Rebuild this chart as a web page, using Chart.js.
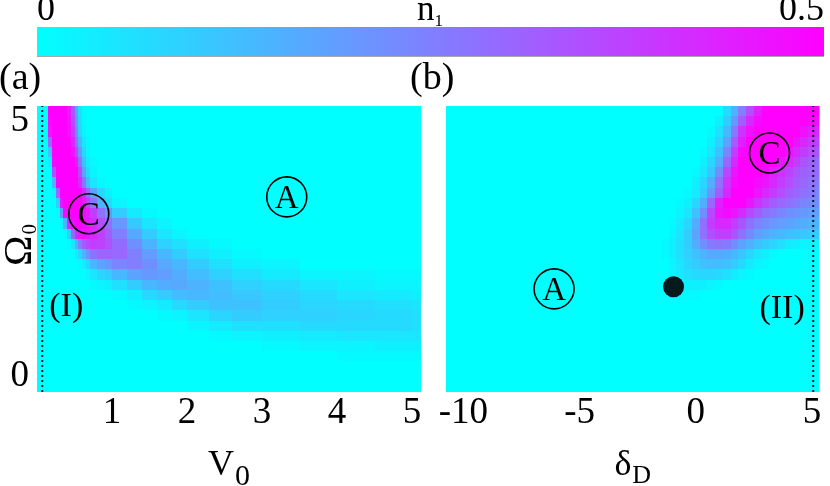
<!DOCTYPE html>
<html>
<head>
<meta charset="utf-8">
<title>n1 phase diagram</title>
<script src="https://cdn.jsdelivr.net/npm/chart.js@4.4.1/dist/chart.umd.min.js"></script>
<style>
  html, body { margin:0; padding:0; background:#ffffff; }
  #wrap { position:relative; width:830px; height:486px; overflow:hidden; background:#fff; }
  #wrap canvas { position:absolute; }
</style>
</head>
<body>
<div id="wrap">
  <canvas id="cbar" width="830" height="62" style="left:0;top:0;"></canvas>
  <canvas id="panelA" width="432" height="426" style="left:0;top:60px;"></canvas>
  <canvas id="panelB" width="430" height="426" style="left:400px;top:60px;"></canvas>
</div>
<script>
// ================= DATA =================
const N1_TICKS = [0, 0.5];
const V0_TICKS = [1, 2, 3, 4, 5];
const DELTA_TICKS = [-10, -5, 0, 5];
const OMEGA_TICKS = [0, 5];

// Omega_0 row centres (row height 0.2)
const OMEGA_ROWS = [5.2, 5.0, 4.8, 4.6, 4.4, 4.2, 4.0, 3.8, 3.6, 3.4, 3.2, 3.0, 2.8, 2.6,
                    2.4, 2.2, 2.0, 1.8, 1.6, 1.4, 1.2, 1.0, 0.8, 0.6, 0.4, 0.2, 0.0, -0.2];
const OMEGA_STEP = 0.2;

// column edges of panel (a) in V_0 and panel (b) in delta_D
const V0_EDGES = [0, 0.1, 0.15, 0.2, 0.25, 0.3, 0.35, 0.4, 0.45, 0.5, 0.55, 0.6, 0.65, 0.7,
                  0.8, 0.9, 1.0, 1.2, 1.4, 1.6, 1.8, 2.0, 2.3, 2.6, 3.0, 3.5, 4.0, 4.5, 5.0, 5.2];
const DELTA_EDGES = [-11, -1.833, -1.5, -1.167, -0.833, -0.5, -0.167, 0.167, 0.5, 0.833, 1.167,
                     1.5, 1.833, 2.167, 2.5, 2.833, 3.167, 3.5, 3.833, 4.167, 4.5, 4.833, 5.167, 5.5];

// n1 values in hundredths (rows follow OMEGA_ROWS, columns follow the edges above)
const N1_A = [
  [0,0,50,50,50,50,50,45,33,18,6,1,0,0,0,0,0,0,0,0,0,0,0,0,0,0,0,0,0],
  [0,0,48,50,50,50,50,46,35,20,7,1,0,0,0,0,0,0,0,0,0,0,0,0,0,0,0,0,0],
  [0,0,45,50,50,50,50,47,38,23,9,2,0,0,0,0,0,0,0,0,0,0,0,0,0,0,0,0,0],
  [0,0,30,50,50,50,50,49,42,28,14,5,1,0,0,0,0,0,0,0,0,0,0,0,0,0,0,0,0],
  [0,0,12,50,50,50,50,50,46,36,20,8,2,0,0,0,0,0,0,0,0,0,0,0,0,0,0,0,0],
  [0,0,3,48,50,50,50,50,50,45,28,12,4,1,0,0,0,0,0,0,0,0,0,0,0,0,0,0,0],
  [0,0,0,35,50,50,50,50,50,50,36,18,7,2,0,0,0,0,0,0,0,0,0,0,0,0,0,0,0],
  [0,0,0,15,50,50,50,50,50,50,42,27,13,5,1,0,0,0,0,0,0,0,0,0,0,0,0,0,0],
  [0,0,0,2,30,50,50,50,50,50,50,42,30,18,8,3,0,0,0,0,0,0,0,0,0,0,0,0,0],
  [0,0,0,0,10,45,50,50,50,50,50,45,38,27,15,7,2,0,0,0,0,0,0,0,0,0,0,0,0],
  [0,0,0,0,1,20,48,50,50,50,50,48,45,38,28,20,10,4,1,0,0,0,0,0,0,0,0,0,0],
  [0,0,0,0,0,2,15,42,48,50,50,48,46,42,35,28,20,11,5,2,0,0,0,0,0,0,0,0,0],
  [0,0,0,0,0,0,1,10,30,42,45,46,45,42,37,32,25,17,10,5,2,0,0,0,0,0,0,0,0],
  [0,0,0,0,0,0,0,1,5,15,25,32,36,38,37,34,29,22,15,9,6,3,1,0,0,0,0,0,0],
  [0,0,0,0,0,0,0,0,0,3,8,15,22,28,30,30,30,25,19,14,10,6,3,1,0,0,0,0,0],
  [0,0,0,0,0,0,0,0,0,0,1,3,8,14,18,20,24,25,22,17,14,10,6,3,2,0,0,0,0],
  [0,0,0,0,0,0,0,0,0,0,0,0,2,5,8,10,14,18,20,19,16,13,9,6,4,2,2,1,1],
  [0,0,0,0,0,0,0,0,0,0,0,0,0,1,2,3,6,10,14,16,17,15,12,9,7,5,3,2,2],
  [0,0,0,0,0,0,0,0,0,0,0,0,0,0,0,0,1,3,7,10,13,14,13,11,9,7,5,4,3],
  [0,0,0,0,0,0,0,0,0,0,0,0,0,0,0,0,0,1,2,4,7,10,12,12,10,8,7,6,5],
  [0,0,0,0,0,0,0,0,0,0,0,0,0,0,0,0,0,0,0,1,2,5,8,10,9,9,8,7,6],
  [0,0,0,0,0,0,0,0,0,0,0,0,0,0,0,0,0,0,0,0,0,2,4,6,6,7,7,7,6],
  [0,0,0,0,0,0,0,0,0,0,0,0,0,0,0,0,0,0,0,0,0,0,1,2,3,4,5,5,5],
  [0,0,0,0,0,0,0,0,0,0,0,0,0,0,0,0,0,0,0,0,0,0,0,0,1,2,2,3,3],
  [0,0,0,0,0,0,0,0,0,0,0,0,0,0,0,0,0,0,0,0,0,0,0,0,0,0,1,1,1],
  [0,0,0,0,0,0,0,0,0,0,0,0,0,0,0,0,0,0,0,0,0,0,0,0,0,0,0,0,0],
  [0,0,0,0,0,0,0,0,0,0,0,0,0,0,0,0,0,0,0,0,0,0,0,0,0,0,0,0,0],
  [0,0,0,0,0,0,0,0,0,0,0,0,0,0,0,0,0,0,0,0,0,0,0,0,0,0,0,0,0]
];
const N1_B = [
  [0,0,0,0,0,0,0,0,0,0,7,15,25,35,44,50,50,50,50,50,50,50,50],
  [0,0,0,0,0,0,0,0,0,3,10,20,32,42,48,50,50,50,50,50,50,48,47],
  [0,0,0,0,0,0,0,0,1,6,14,26,40,47,50,50,50,50,50,50,47,44,42],
  [0,0,0,0,0,0,0,0,3,9,18,32,44,50,50,50,50,50,50,46,42,39,37],
  [0,0,0,0,0,0,0,1,5,12,24,38,48,50,50,50,50,50,46,42,38,35,33],
  [0,0,0,0,0,0,0,3,8,16,30,42,50,50,50,50,50,46,42,38,34,31,29],
  [0,0,0,0,0,0,1,5,11,22,36,46,50,50,50,48,44,40,37,34,31,30,29],
  [0,0,0,0,0,0,3,8,16,28,40,48,50,50,48,46,42,38,35,32,30,28,26],
  [0,0,0,0,0,1,4,10,20,32,43,50,50,50,46,42,38,35,32,30,28,26,24],
  [0,0,0,0,1,3,8,16,30,44,50,50,50,46,40,36,32,30,28,26,24,23,22],
  [0,0,0,0,2,5,12,22,36,46,48,46,42,36,32,28,26,24,22,21,20,19,19],
  [0,0,0,1,4,8,16,28,38,42,42,38,34,28,24,22,20,19,18,17,16,15,15],
  [0,0,0,2,5,10,18,28,35,38,38,34,28,23,19,17,15,14,13,12,11,10,10],
  [0,0,1,3,6,10,16,22,26,27,26,22,18,15,12,10,8,6,4,3,2,2,2],
  [0,0,1,3,6,9,12,15,17,17,16,14,11,8,5,3,1,0,0,0,0,0,0],
  [0,0,0,2,5,8,10,12,13,13,12,10,7,4,2,1,0,0,0,0,0,0,0],
  [0,0,0,2,4,6,7,8,8,7,6,4,2,1,0,0,0,0,0,0,0,0,0],
  [0,0,0,1,2,3,3,3,2,1,0,0,0,0,0,0,0,0,0,0,0,0,0],
  [0,0,0,0,1,1,1,0,0,0,0,0,0,0,0,0,0,0,0,0,0,0,0],
  [0,0,0,0,0,0,0,0,0,0,0,0,0,0,0,0,0,0,0,0,0,0,0],
  [0,0,0,0,0,0,0,0,0,0,0,0,0,0,0,0,0,0,0,0,0,0,0],
  [0,0,0,0,0,0,0,0,0,0,0,0,0,0,0,0,0,0,0,0,0,0,0],
  [0,0,0,0,0,0,0,0,0,0,0,0,0,0,0,0,0,0,0,0,0,0,0],
  [0,0,0,0,0,0,0,0,0,0,0,0,0,0,0,0,0,0,0,0,0,0,0],
  [0,0,0,0,0,0,0,0,0,0,0,0,0,0,0,0,0,0,0,0,0,0,0],
  [0,0,0,0,0,0,0,0,0,0,0,0,0,0,0,0,0,0,0,0,0,0,0],
  [0,0,0,0,0,0,0,0,0,0,0,0,0,0,0,0,0,0,0,0,0,0,0],
  [0,0,0,0,0,0,0,0,0,0,0,0,0,0,0,0,0,0,0,0,0,0,0]
];

const CRITICAL_POINT = [{x: -0.96, y: 1.76}];
const LINE_I_V0 = 0.07;
const LINE_II_DELTA = 5.05;

// ================= HELPERS =================
const FONT = '"Liberation Serif", "Times New Roman", serif';
function setFont(ctx, size) { ctx.font = size + 'px ' + FONT; }
function n1Color(v) {
  const t = Math.max(0, Math.min(1, v / 0.5));
  return 'rgb(' + Math.round(255 * t) + ',' + Math.round(255 * (1 - t)) + ',255)';
}
function drawSub(ctx, main, sub, cx, base, mSize, sSize, drop, gap) {
  setFont(ctx, mSize); const wm = ctx.measureText(main).width;
  setFont(ctx, sSize); const ws = ctx.measureText(sub).width;
  const x0 = cx - (wm + gap + ws) / 2;
  ctx.fillStyle = '#000'; ctx.textAlign = 'left'; ctx.textBaseline = 'alphabetic';
  setFont(ctx, mSize); ctx.fillText(main, x0, base);
  setFont(ctx, sSize); ctx.fillText(sub, x0 + wm + gap, base + drop);
}
function circled(ctx, letter, px, py) {
  ctx.beginPath(); ctx.arc(px, py, 20, 0, 2 * Math.PI);
  ctx.lineWidth = 1.6; ctx.strokeStyle = '#000'; ctx.stroke();
  setFont(ctx, 33); ctx.fillStyle = '#000'; ctx.textAlign = 'center'; ctx.textBaseline = 'alphabetic';
  ctx.fillText(letter, px, py + 11);
}
function plainLabel(ctx, s, px, py, size) {
  setFont(ctx, size); ctx.fillStyle = '#000'; ctx.textAlign = 'center'; ctx.textBaseline = 'alphabetic';
  ctx.fillText(s, px, py + 0.255 * size);
}
function heatLayer(id, edges, rows, step, values) {
  return {
    id: id,
    beforeDatasetsDraw(chart) {
      const ctx = chart.ctx, a = chart.chartArea, x = chart.scales.x, y = chart.scales.y;
      ctx.save();
      ctx.beginPath(); ctx.rect(a.left, a.top, a.width, a.height); ctx.clip();
      ctx.fillStyle = n1Color(0);
      ctx.fillRect(a.left, a.top, a.width, a.height);
      for (let r = 0; r < rows.length; r++) {
        const yt = Math.round(y.getPixelForValue(rows[r] + step / 2));
        const yb = Math.round(y.getPixelForValue(rows[r] - step / 2));
        const row = values[r] || [];
        for (let c = 0; c < edges.length - 1; c++) {
          const xl = Math.round(x.getPixelForValue(edges[c]));
          const xr = Math.round(x.getPixelForValue(edges[c + 1]));
          ctx.fillStyle = n1Color((row[c] || 0) / 100);
          ctx.fillRect(xl, yt, xr - xl, yb - yt);
        }
      }
      ctx.restore();
    }
  };
}
const tickFont = { family: FONT, size: 37 };
function fixedTicks(list) { return function (s) { s.ticks = list.map(v => ({ value: v })); }; }

// ================= COLOUR BAR =================
new Chart(document.getElementById('cbar'), {
  type: 'scatter',
  data: { datasets: [] },
  options: {
    responsive: false, animation: false, events: [],
    layout: { padding: { left: 37, right: 6, top: 0, bottom: 5 } },
    plugins: { legend: { display: false }, tooltip: { enabled: false } },
    scales: {
      x: {
        type: 'linear', position: 'top', min: 0, max: 0.5,
        grid: { display: false, drawTicks: false }, border: { display: false },
        afterBuildTicks: fixedTicks(N1_TICKS),
        afterFit: s => { s.height = 27; },
        ticks: { align: 'inner', font: { family: FONT, size: 36 }, color: '#000', padding: -5, maxRotation: 0, autoSkip: false,
                 callback: v => String(v) }
      },
      y: { display: false, min: 0, max: 1 }
    }
  },
  plugins: [{
    id: 'cbarFill',
    beforeDatasetsDraw(chart) {
      const ctx = chart.ctx, a = chart.chartArea, x = chart.scales.x;
      const g = ctx.createLinearGradient(x.getPixelForValue(N1_TICKS[0]), 0, x.getPixelForValue(N1_TICKS[1]), 0);
      g.addColorStop(0, n1Color(N1_TICKS[0]));
      g.addColorStop(1, n1Color(N1_TICKS[1]));
      ctx.save();
      ctx.fillStyle = g; ctx.fillRect(a.left, a.top, a.width, a.height);
      ctx.fillStyle = '#a8a8a8'; ctx.fillRect(a.left, a.bottom - 1, a.width, 1);
      ctx.restore();
    },
    afterDraw(chart) {
      const ctx = chart.ctx;
      ctx.save();
      drawSub(ctx, 'n', '1', 430, 20, 35, 17, 6, 0);
      ctx.restore();
    }
  }]
});

// ================= PANEL (a) =================
new Chart(document.getElementById('panelA'), {
  type: 'scatter',
  data: {
    datasets: [{
      data: [{ x: LINE_I_V0, y: -0.3 }, { x: LINE_I_V0, y: 5.3 }],
      showLine: true, borderColor: '#0d1b22', borderWidth: 2, borderDash: [2, 3], pointRadius: 0
    }]
  },
  options: {
    responsive: false, animation: false, events: [],
    layout: { padding: { left: 0, right: 11, top: 46, bottom: 0 } },
    plugins: { legend: { display: false }, tooltip: { enabled: false } },
    scales: {
      x: {
        type: 'linear', min: 0, max: 5.12,
        grid: { display: false, drawTicks: false }, border: { display: false },
        afterBuildTicks: fixedTicks(V0_TICKS),
        afterFit: s => { s.height = 94; },
        ticks: { font: tickFont, color: '#000', padding: -1, maxRotation: 0, autoSkip: false }
      },
      y: {
        type: 'linear', min: -0.3, max: 5.3,
        grid: { display: false, drawTicks: false }, border: { display: false },
        afterBuildTicks: fixedTicks(OMEGA_TICKS),
        afterFit: s => { s.width = 37; },
        ticks: { font: tickFont, color: '#000', padding: 8, autoSkip: false }
      }
    }
  },
  plugins: [heatLayer('heatA', V0_EDGES, OMEGA_ROWS, OMEGA_STEP, N1_A), {
    id: 'notesA',
    afterDraw(chart) {
      const ctx = chart.ctx, x = chart.scales.x, y = chart.scales.y, a = chart.chartArea;
      ctx.save();
      circled(ctx, 'A', x.getPixelForValue(3.33), y.getPixelForValue(3.52));
      circled(ctx, 'C', x.getPixelForValue(0.69), y.getPixelForValue(3.19));
      plainLabel(ctx, '(I)', x.getPixelForValue(0.39), y.getPixelForValue(1.35), 34);
      setFont(ctx, 38); ctx.fillStyle = '#000'; ctx.textAlign = 'left'; ctx.textBaseline = 'alphabetic';
      ctx.fillText('(a)', -1, 29);
      drawSub(ctx, 'V', '0', (a.left + a.right) / 2, 415, 36, 30, 10, 1);
      // rotated Omega_0
      ctx.translate(31, 206);
      ctx.rotate(-Math.PI / 2);
      setFont(ctx, 41); ctx.textAlign = 'left'; ctx.textBaseline = 'alphabetic';
      const w = ctx.measureText('\u03A9').width;
      ctx.fillText('\u03A9', 0, 0);
      setFont(ctx, 21); ctx.fillText('0', w + 1, 5);
      ctx.restore();
    }
  }]
});

// ================= PANEL (b) =================
new Chart(document.getElementById('panelB'), {
  type: 'scatter',
  data: {
    datasets: [{
      data: [{ x: LINE_II_DELTA, y: -0.3 }, { x: LINE_II_DELTA, y: 5.3 }],
      showLine: true, borderColor: '#0d1b22', borderWidth: 2, borderDash: [2, 3], pointRadius: 0
    }, {
      data: CRITICAL_POINT, pointRadius: 10.5, backgroundColor: '#061a1e', borderWidth: 0
    }]
  },
  options: {
    responsive: false, animation: false, events: [],
    layout: { padding: { left: 46, right: 3, top: 46, bottom: 0 } },
    plugins: { legend: { display: false }, tooltip: { enabled: false } },
    scales: {
      x: {
        type: 'linear', min: -10.75, max: 5.32,
        grid: { display: false, drawTicks: false }, border: { display: false },
        afterBuildTicks: fixedTicks(DELTA_TICKS),
        afterFit: s => { s.height = 94; },
        ticks: { font: tickFont, color: '#000', padding: -1, maxRotation: 0, autoSkip: false }
      },
      y: { display: false, type: 'linear', min: -0.3, max: 5.3 }
    }
  },
  plugins: [heatLayer('heatB', DELTA_EDGES, OMEGA_ROWS, OMEGA_STEP, N1_B), {
    id: 'notesB',
    afterDraw(chart) {
      const ctx = chart.ctx, x = chart.scales.x, y = chart.scales.y, a = chart.chartArea;
      ctx.save();
      circled(ctx, 'A', x.getPixelForValue(-6.1), y.getPixelForValue(1.72));
      circled(ctx, 'C', x.getPixelForValue(3.17), y.getPixelForValue(4.38));
      plainLabel(ctx, '(II)', x.getPixelForValue(3.71), y.getPixelForValue(1.31), 34);
      setFont(ctx, 38); ctx.fillStyle = '#000'; ctx.textAlign = 'left'; ctx.textBaseline = 'alphabetic';
      ctx.fillText('(b)', 10, 29);
      drawSub(ctx, '\u03B4', 'D', (a.left + a.right) / 2, 415, 36, 26, 8, 1);
      ctx.restore();
    }
  }]
});
</script>
</body>
</html>
